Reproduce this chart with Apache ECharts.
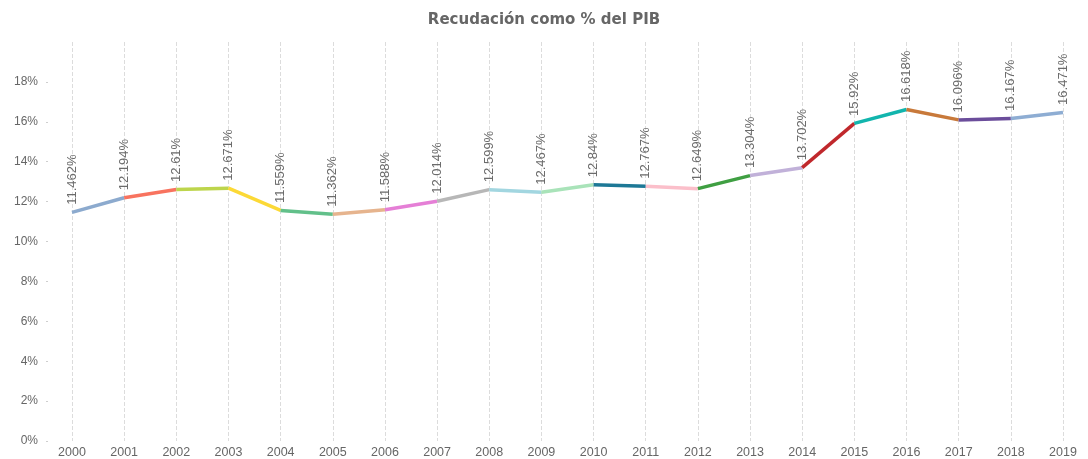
<!DOCTYPE html>
<html>
<head>
<meta charset="utf-8">
<script src="https://cdn.jsdelivr.net/npm/echarts@6/dist/echarts.min.js"></script>
<style>
    html, body { margin: 0; padding: 0; background: #fff; }
    #chart { width: 1088px; height: 459px; }
</style>
</head>
<body>
<div id="chart"></div>
<script>
// años y recaudación (% del PIB)
const years = ['2000', '2001', '2002', '2003', '2004', '2005', '2006', '2007', '2008', '2009',
    '2010', '2011', '2012', '2013', '2014', '2015', '2016', '2017', '2018', '2019'];
const recaudacion = [11.462, 12.194, 12.61, 12.671, 11.559, 11.362, 11.588, 12.014, 12.599, 12.467,
    12.84, 12.767, 12.649, 13.304, 13.702, 15.92, 16.618, 16.096, 16.167, 16.471];
// un color por tramo (entre un año y el siguiente)
const segmentColors = ['#8caace', '#f8735f', '#bdd54c', '#fcd936', '#62c08a', '#e6b48e', '#e57fd6',
    '#b7b7b7', '#a2d6e0', '#a9e3b9', '#1d7896', '#fbbfca', '#3f9f42', '#c1b1d9', '#c0282c',
    '#12b5ad', '#c8793a', '#6b4d9b', '#8eadd3'];

const chart = echarts.init(document.getElementById('chart'));

let series = []
for (let i = 0; i < recaudacion.length - 1; i++) {
    series.push({
        type: 'line',
        data: recaudacion.map((v, j) => (j === i || j === i + 1) ? v : null),
        symbol: 'none',
        lineStyle: { color: segmentColors[i], width: 3.5 },
        silent: true,
        z: 2
    })
}
// serie solo para las etiquetas
series.push({
    type: 'line',
    data: recaudacion,
    symbol: 'circle',
    symbolSize: 1,
    showSymbol: true,
    itemStyle: { color: 'rgba(0,0,0,0)' },
    lineStyle: { width: 0, color: 'rgba(0,0,0,0)' },
    label: {
        show: true,
        position: 'top',
        distance: 7,
        rotate: 90,
        align: 'left',
        verticalAlign: 'middle',
        color: '#6b6b6b',
        fontFamily: 'Liberation Sans',
        fontSize: 13,
        formatter: p => p.value + '%'
    },
    z: 3
})

chart.setOption({
    animation: false,
    title: {
        text: 'Recudación como % del PIB',
        left: 'center',
        top: 8,
        textStyle: {
            fontFamily: 'DejaVu Sans',
            fontWeight: 'bold',
            fontSize: 15,
            color: '#666666'
        }
    },
    grid: { left: 72, right: 25, top: 42, bottom: 17, containLabel: false },
    xAxis: {
        type: 'category',
        data: years,
        boundaryGap: false,
        axisLine: { show: false },
        axisTick: { show: false },
        axisLabel: { color: '#666666', fontFamily: 'Liberation Sans', fontSize: 12.5, margin: 5 },
        splitLine: { show: true, lineStyle: { type: 'dashed', color: '#dcdcdc' } }
    },
    yAxis: {
        type: 'value',
        min: 0,
        max: 20,
        interval: 2,
        offset: 24,
        axisLine: { show: false },
        axisTick: { show: true, length: 2, lineStyle: { color: '#cfcfcf' } },
        axisLabel: {
            showMaxLabel: false,
            color: '#666666',
            fontFamily: 'Liberation Sans',
            fontSize: 12,
            margin: 10,
            formatter: v => v + '%'
        },
        splitLine: { show: false }
    },
    series: series
})
</script>
</body>
</html>
